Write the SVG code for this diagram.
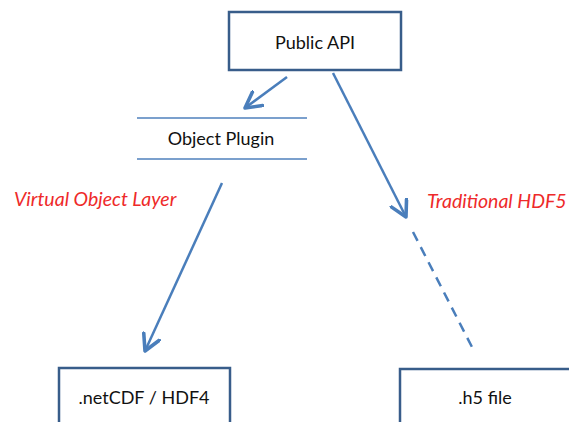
<svg xmlns="http://www.w3.org/2000/svg" width="569" height="422" viewBox="0 0 569 422">
<style>
.box{fill:#fff;stroke:#385d8a;stroke-width:2.5}
.t{font-family:Lato,"Liberation Sans",sans-serif;font-size:18px;fill:#111;text-anchor:middle}
.lbl{font-family:Lato,"Liberation Sans",sans-serif;font-size:19.5px;font-style:italic;fill:#ee2a2a}
.c{stroke:#4a7ebb;stroke-width:2.5;fill:none}
.pl{stroke:#4f81bd;stroke-width:1.3}
</style>
<defs>
<marker id="ah" markerUnits="userSpaceOnUse" markerWidth="20" markerHeight="20" refX="12" refY="7" orient="auto" viewBox="0 0 14 14">
<path d="M1,1 L12,7 L1,13" fill="none" stroke="#4a7ebb" stroke-width="2.5" stroke-linecap="round" stroke-linejoin="round"/>
</marker>
</defs>
<rect width="569" height="422" fill="#fff"/>
<g id="connectors">
<line class="c" x1="287" y1="77" x2="245" y2="108" marker-end="url(#ah)"/>
<line class="c" x1="333" y1="73" x2="406" y2="217" marker-end="url(#ah)"/>
<line class="c" x1="413" y1="232" x2="474" y2="351" stroke-dasharray="10,7"/>
<line class="c" x1="222" y1="183" x2="145" y2="351" marker-end="url(#ah)"/>
</g>
<g id="public-api">
<rect class="box" x="229" y="12" width="172" height="58"/>
<text class="t" x="315" y="49">Public API</text>
</g>
<g id="object-plugin">
<line class="pl" x1="137" y1="118" x2="307" y2="118"/>
<line class="pl" x1="137" y1="159" x2="307" y2="159"/>
<text class="t" x="221" y="145">Object Plugin</text>
</g>
<g id="netcdf">
<rect class="box" x="59" y="368" width="171" height="70"/>
<text class="t" x="144" y="404">.netCDF / HDF4</text>
</g>
<g id="h5file">
<rect class="box" x="400" y="369" width="190" height="70"/>
<text class="t" x="485" y="404">.h5 file</text>
</g>
<g id="labels">
<text class="lbl" x="14" y="206">Virtual Object Layer</text>
<text class="lbl" x="427" y="208">Traditional HDF5</text>
</g>
</svg>
